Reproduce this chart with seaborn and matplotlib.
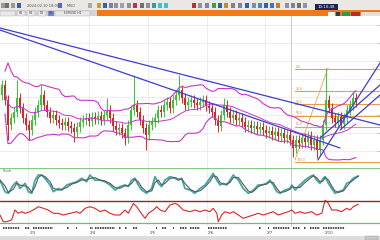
import numpy as np
import pandas as pd
import matplotlib
matplotlib.use("Agg")
import matplotlib.pyplot as plt
import seaborn as sns
from matplotlib.patches import Rectangle

# ---------------- data ----------------
close = [115,100,75,82,88,102,92,82,75,70,80,88,95,105,95,88,82,85,80,77,
         75,78,74,72,68,73,78,80,82,79,83,81,84,80,85,90,82,74,70,72,
         67,62,75,90,95,88,80,72,65,75,78,82,90,88,95,98,92,100,105,110,
         102,95,98,100,97,95,98,100,94,92,88,80,74,85,95,88,82,85,80,82,
         78,73,75,72,74,71,73,70,67,69,65,68,64,67,62,65,60,52,60,57,
         62,58,64,55,60,50,60,75,100,92,82,78,83,76,82,90,95,102,98]
first_open = 105
spike_high = {5: 120, 13: 115, 35: 102, 44: 125, 59: 125, 74: 102, 108: 132, 117: 108}
spike_low = {2: 60, 9: 60, 24: 58, 41: 55, 48: 50, 72: 68, 97: 43, 105: 42}

stoch_x = [-0.67,1,2.1,3.8,4.9,6,7.7,8.8,9.9,11,12.1,13.2,14.3,16,17.1,18.8,19.9,21.6,23.2,24.9,
           26.6,28.2,29.3,31,32.7,34.3,36,37.7,39.3,41,42.1,43.2,44.3,45.4,46.6,48.2,49.9,51,52.1,53.2,
           54.3,56,57.7,58.8,59.9,61,62.7,64.3,66,67.7,69.3,70.4,71.6,72.7,73.8,74.9,76,77.1,78.8,80.4,
           82.1,83.2,84.3,85.4,86.6,88.2,89.3,90.4,91.6,92.7,94.3,96,96.6,97.7,99.3,101,102.7,103.8,104.9,106,
           107.1,107.7,108.8,109.9,111,112.1,113.8,114.9,116,117.1,118.2,118.8]
stoch_v = [62,26,21,47,57,36,52,26,21,62,78,78,68,47,26,36,31,47,52,57,
           68,57,78,62,62,57,47,31,42,47,42,62,68,47,31,21,36,73,52,42,
           62,73,68,62,68,36,31,21,36,47,68,83,62,47,52,47,62,78,62,36,
           21,26,36,47,47,52,62,47,26,21,31,36,47,31,47,62,73,78,62,52,
           68,73,52,36,21,26,31,52,57,68,73,75]

rsi_x = [-0.67,0.4,1.6,3.2,4.3,5.4,6.6,7.7,9.3,10.4,12.1,13.8,15.4,17.1,18.8,20.4,22.7,24.9,26,27.7,
         29.3,31,32.7,34.3,36,37.7,39.3,41,42.1,43.8,44.9,46,47.7,48.8,50.4,51.6,52.7,54.3,56,57.7,
         58.8,60.4,62.7,64.3,66,67.7,69.3,70.4,71.6,72.1,73.2,74.3,76,77.1,78.8,80.4,82.1,83.8,85.4,87.1,
         88.8,90.4,92.1,93.8,95.4,96.6,97.7,99.3,101,103.2,104.9,106.6,107.7,108.8,109.9,111.6,113.2,114.9,116,117.1,
         118.2,118.8]
rsi_v = [44.5,32.4,32.4,35.5,53.6,47.6,50.5,47.6,50.5,53.6,59.6,56.7,53.6,47.6,47.6,44.5,47.6,50.5,47.6,56.7,
         59.6,56.7,50.5,53.6,47.6,44.5,44.5,53.6,47.6,65.6,59.6,50.5,38.5,47.6,53.6,59.6,53.6,50.5,62.7,65.6,
         62.7,53.6,50.5,53.6,50.5,53.6,50.5,56.7,47.6,32.4,44.5,50.5,47.6,50.5,44.5,38.5,41.5,44.5,47.6,44.5,
         47.6,50.5,44.5,47.6,50.5,53.6,47.6,50.5,47.6,50.5,44.5,47.6,71.5,65.6,53.6,53.6,50.5,56.7,53.6,59.6,
         62.7,64]

fib_levels = [131, 109, 96, 84.5, 73.5, 38]
fib_labels = ["0.0", "23.6", "38.2", "50.0", "61.8", "100.0"]
fib_start = 97.67
fib_swing = [(97.67, 40), (108.67, 132)]

trend_lines = [[(-0.67, 172), (126, 75)],
               [(-0.67, 170), (112.7, 52)],
               [(105.3, 40), (126, 137)],
               [(106, 62), (126, 115)],
               [(112.7, 70), (126, 105)]]

day_pos = [8.67, 29, 48.67, 68.33, 87.67]
marker_pos = 96.33
label_pos = [9.33, 29.33, 49.33, 68.67, 88.33, 107.67]
day_labels = ["2/3", "2/4", "2/5", "2/6", "2/7", "2/10"]
tick_ranges = [(0.4, 6), (7.7, 9.3), (10.4, 17.1), (21.8, 22.2), (24.7, 25.1), (29.3, 30.4), (31, 37.7),
               (39.1, 39.5), (41, 41.6), (43.8, 44.9), (51.4, 51.8), (53.2, 54.9), (56.9, 57.3), (59.3, 61.6),
               (62.7, 66), (68.7, 75), (85.8, 86.2), (88.5, 88.9), (90.4, 96), (97, 99.3), (100.8, 101.2),
               (102.7, 106), (107, 114.3)]

# ---------------- setup ----------------
sns.set_theme(style="white")
plt.rcParams['font.family'] = ['DejaVu Sans']
W, H = 380, 240
fig = plt.figure(figsize=(3.8, 2.4), dpi=100)
fig.patch.set_facecolor("white")

def rect(x0, y0, x1, y1):
    return [x0 / W, 1 - y1 / H, (x1 - x0) / W, (y1 - y0) / H]

def box(x0, y0, x1, y1, color, **kw):
    fig.patches.append(Rectangle((x0 / W, 1 - y1 / H), (x1 - x0) / W, (y1 - y0) / H,
                                 transform=fig.transFigure, facecolor=color, edgecolor=kw.get("ec", "none"),
                                 lw=kw.get("lw", 0), zorder=kw.get("z", 1)))

XL = (-0.667, 126)

# toolbar
box(0, 0, 380, 10, "#ebe8e3")
icons = [(1, "#9a9a9a"), (5, "#707070"), (11, "#9a9a9a"), (17, "#3b5fa8"), (58, "#4a6ccc"), (88, "#aaaaaa"),
         (97, "#c8a030"), (103, "#3a60b0"), (109, "#8080a0"), (114, "#9090a0"), (120, "#a0a0b0"), (127, "#909090"),
         (133, "#c03050"), (140, "#707070"), (146, "#909090"), (152, "#30a0a0"), (158, "#40c0d0"), (164, "#40c0d0"),
         (192, "#c03030"), (198, "#9090a0"), (205, "#8080a0"), (212, "#40a040"), (218, "#3060b0"), (224, "#c09030"),
         (231, "#808090"), (238, "#8080a0"), (245, "#3060b0"), (252, "#8090a0"), (258, "#5080d0"), (264, "#3060c0"),
         (270, "#4070d0"), (276, "#c08020"), (285, "#9090a0"), (291, "#8080a0"), (297, "#707070"), (303, "#9090b0")]
for x, c in icons:
    box(x, 3, x + 4, 8, c)
fig.text(27 / W, 1 - 6 / H, "2024.02.10 18:00", fontsize=2.6, color="#555555", va="center")
fig.text(67 / W, 1 - 6 / H, "M60  ", fontsize=2.6, color="#555555", va="center")
box(315, 4, 338, 10, "#1c2550")
fig.text(326.5 / W, 1 - 7 / H, "10:10:48", fontsize=2.8, color="white", va="center", ha="center")

# tab bar
box(0, 10, 97, 16, "#d4d4d4")
box(97, 10, 380, 16, "#f07a18")
for x0, x1, lab in [(0, 15, ""), (17, 25, "H1"), (27, 35, "H4"), (38, 46, "D1"), (48, 54, "W1"), (55, 90, "EURUSD H1")]:
    box(x0, 11, x1, 16, "#e8e8e8" if x0 != 48 else "#7080d0", ec="#aaaaaa", lw=0.3)
    fig.text((x0 + x1) / 2 / W, 1 - 13.5 / H, lab, fontsize=2.2, color="#444444", ha="center", va="center")
box(328, 12, 335, 16, "#f4f4f4")
box(336, 12, 340, 16, "#303850")
box(342, 12, 350, 16, "#2c9c3c")
box(351, 12, 360, 16, "#c02828")
box(361, 12, 380, 16, "#e0e0e0")

# status bar
box(0, 236, 380, 240, "#dcdcdc")
box(365, 236, 378, 240, "#c8c8c8", ec="#999999", lw=0.3)

# ---------------- main chart ----------------
ax = fig.add_axes(rect(0, 16, 380, 168))
ax.set_facecolor("white")
n = len(close)
idx = np.arange(n)
opens = [first_open] + close[:-1]
for i in range(n):
    o, c = opens[i], close[i]
    hi = spike_high.get(i, max(o, c) + 5)
    lo = spike_low.get(i, min(o, c) - 5)
    col = "#33c833" if c >= o else "#e02222"
    ax.vlines(i, lo, hi, color=col, lw=0.7, zorder=3)
    ax.bar(i, max(abs(c - o), 1.2), bottom=min(o, c), width=0.62, color=col, lw=0, zorder=4)

s = pd.Series(close, dtype=float)
mid = s.rolling(20, min_periods=2).mean()
sd = s.rolling(20, min_periods=2).std()
bb = pd.DataFrame({"i": idx, "mid": mid, "up": mid + 2 * sd, "lo": mid - 2 * sd})
for col, lw in [("up", 0.8), ("lo", 0.8), ("mid", 0.7)]:
    sns.lineplot(data=bb, x="i", y=col, ax=ax, color="#cc33cc", lw=lw, zorder=5)

for (x0, y0), (x1, y1) in trend_lines:
    ax.plot([x0, x1], [y0, y1], color="#3c3cd8", lw=0.9, zorder=6)

for lev, lab in zip(fib_levels, fib_labels):
    ax.plot([fib_start, XL[1]], [lev, lev], color="#e8a048", lw=0.8, zorder=2)
    ax.text(fib_start + 0.4, lev + 1.2, lab, fontsize=2.2, color="#d08830", zorder=2)
ax.plot([p[0] for p in fib_swing], [p[1] for p in fib_swing], color="#e8a048", lw=0.6, zorder=2)

hgrid = [175, 157, 139, 121, 103, 85, 67, 49]
for g in hgrid:
    ax.axhline(g, color="#efe6ef", lw=0.6, zorder=0)
for d in day_pos:
    ax.axvline(d, color="#efe6ef", lw=0.6, zorder=0)
ax.axvline(marker_pos, color="#cfc8cf", lw=0.7, zorder=0)
ax.set_xlim(*XL)
ax.set_ylim(32, 184)
ax.set_xticks([]); ax.set_xlabel(""); ax.set_ylabel("")
ax.yaxis.tick_right()
ax.set_yticks(hgrid)
ax.tick_params(axis="y", direction="in", length=2, width=0.4, color="#999999", labelright=False, pad=0)
for sp in ax.spines.values():
    sp.set_visible(False)

# ---------------- stochastic panel ----------------
ax1 = fig.add_axes(rect(0, 168, 380, 200))
st = pd.DataFrame({"x": stoch_x, "k": stoch_v})
st["d"] = st["k"].rolling(2, min_periods=1).mean()
sns.lineplot(data=st, x="x", y="k", ax=ax1, color="#40a8a8", lw=1.3, sort=False)
sns.lineplot(data=st, x="x", y="d", ax=ax1, color="#5a5a5a", lw=0.8, sort=False)
ax1.axhline(99, color="#88c888", lw=0.9)
for d in day_pos:
    ax1.axvline(d, color="#efe6ef", lw=0.6, zorder=0)
ax1.axvline(marker_pos, color="#cfc8cf", lw=0.7, zorder=0)
ax1.text(0.3, 88, "Stoch", fontsize=2.4, color="#555555")
ax1.set_xlim(*XL); ax1.set_ylim(0, 100)
ax1.set_xticks([]); ax1.set_yticks([]); ax1.set_xlabel(""); ax1.set_ylabel("")
for sp in ax1.spines.values():
    sp.set_visible(False)

# ---------------- RSI panel ----------------
ax2 = fig.add_axes(rect(0, 200, 380, 226))
rs = pd.DataFrame({"x": rsi_x, "r": rsi_v})
sns.lineplot(data=rs, x="x", y="r", ax=ax2, color="#e02424", lw=0.8, sort=False)
ax2.axhline(70, color="#8c2a2a", lw=1.0)
ax2.axhline(30, color="#6cc06c", lw=0.9)
for d in day_pos:
    ax2.axvline(d, color="#efe6ef", lw=0.6, zorder=0)
ax2.axvline(marker_pos, color="#cfc8cf", lw=0.7, zorder=0)
ax2.set_xlim(*XL); ax2.set_ylim(24.5, 71.8)
ax2.set_xticks([]); ax2.set_yticks([]); ax2.set_xlabel(""); ax2.set_ylabel("")
for sp in ax2.spines.values():
    sp.set_visible(False)

# ---------------- date row ----------------
axd = fig.add_axes(rect(0, 226, 380, 236))
axd.set_xlim(*XL); axd.set_ylim(0, 10)
for a, b in tick_ranges:
    axd.plot([a, b], [8, 8], color="#111111", lw=1.1, ls=(0, (1, 0.6)), solid_capstyle="butt")
for p, lab in zip(label_pos, day_labels):
    axd.text(p, 3, lab, fontsize=2.8, color="#444444", ha="left", va="center")
axd.set_xticks([]); axd.set_yticks([])
for sp in axd.spines.values():
    sp.set_visible(False)

fig.savefig("out.png", dpi=100)
